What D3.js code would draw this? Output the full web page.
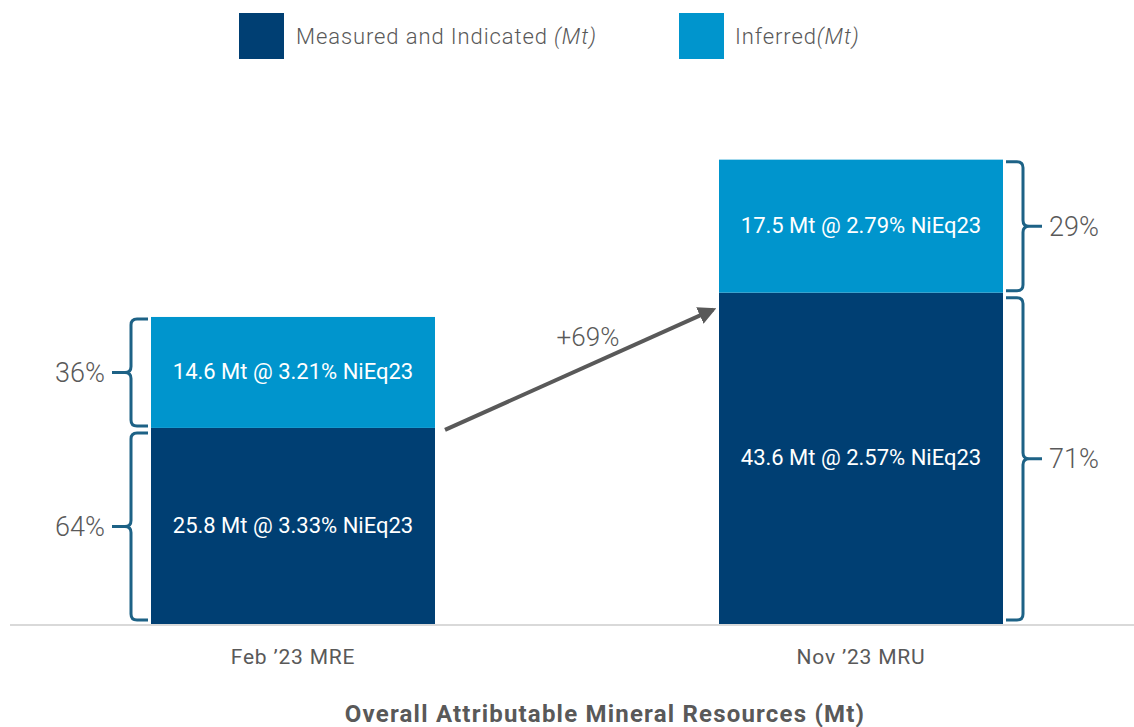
<!DOCTYPE html>
<html lang="en">
<head>
	<meta charset="UTF-8">
	<title>Overall Attributable Mineral Resources</title>
	<style type="text/css">
	body {
		margin: 0;
		background: #fff;
	}
	text {
		font-family: Roboto, "Noto Sans", sans-serif;
	}
	.axis .domain {
		stroke: #d9d9d9;
		stroke-width: 2;
	}
	.axis .tick line {
		stroke: none;
	}
	.axis .tick text {
		fill: #595959;
		font-size: 21px;
		letter-spacing: 0.8px;
	}
	</style>
</head>
<body>
</body>
<script src="https://cdn.jsdelivr.net/npm/d3@7/dist/d3.min.js"></script>
<script>
var categories = ["Feb \u201923 MRE", "Nov \u201923 MRU"]
var measured = [25.8, 43.6]
var inferred = [14.6, 17.5]
var measuredGrade = ["3.33", "2.57"]
var inferredGrade = ["3.21", "2.79"]
var measuredShare = [64, 71]
var inferredShare = [36, 29]
var growth = 69
var seriesNames = ["Measured and Indicated", "Inferred"]

var colors = ["#003f73", "#0095cd"]
var braceColor = "#1d6286"
var textGrey = "#595959"

var width = 1134,
    height = 727,
    baseY = 624;

var x = d3.scaleBand()
    .domain(categories)
    .range([9, 1145])
    .paddingInner(0.5)
    .paddingOuter(0.25)

var y = d3.scaleLinear()
    .domain([0, 70])
    .range([baseY, baseY - 70 * 7.6])

var svg = d3.select("body").append("svg")
    .attr("width", width)
    .attr("height", height)

// legend
var legend = svg.append("g")
var legendX = [239, 679]
seriesNames.forEach(function (name, i) {
	var g = legend.append("g").attr("transform", "translate(" + legendX[i] + ",13)")
	g.append("rect")
	    .attr("width", 45)
	    .attr("height", 46)
	    .attr("fill", colors[i])
	var t = g.append("text")
	    .attr("x", i === 0 ? 57 : 56)
	    .attr("y", 31)
	    .attr("fill", textGrey)
	    .style("font-size", "22px")
	    .style("letter-spacing", "0.9px")
	    .style("font-weight", 300)
	    .text(name + (i === 0 ? " " : ""))
	t.append("tspan")
	    .style("font-style", "italic")
	    .text("(Mt)")
})

// x axis
svg.append("g")
    .attr("class", "axis")
    .attr("transform", "translate(0," + (baseY + 1) + ")")
    .call(d3.axisBottom(x).tickSize(0).tickPadding(24))
    .call(function (g) {
    	g.select(".domain").attr("d", "M10,0H" + width)
    })

// stacked bars
var rows = categories.map(function (c, i) {
	return {
		cat: c,
		segs: [
			{ y0: 0, y1: measured[i], v: measured[i], grade: measuredGrade[i], share: measuredShare[i], k: 0 },
			{ y0: measured[i], y1: measured[i] + inferred[i], v: inferred[i], grade: inferredGrade[i], share: inferredShare[i], k: 1 }
		]
	}
})

var bars = svg.append("g").selectAll(".bar")
    .data(rows)
    .enter()
    .append("g")
    .attr("class", "bar")

bars.each(function (d, i) {
	var g = d3.select(this)
	var bx = x(d.cat), bw = x.bandwidth()
	d.segs.forEach(function (s) {
		g.append("rect")
		    .attr("x", bx)
		    .attr("width", bw)
		    .attr("y", y(s.y1))
		    .attr("height", y(s.y0) - y(s.y1))
		    .attr("fill", colors[s.k])
		g.append("text")
		    .attr("x", bx + bw / 2)
		    .attr("y", (y(s.y0) + y(s.y1)) / 2 - 1)
		    .attr("dy", "0.35em")
		    .attr("text-anchor", "middle")
		    .attr("fill", "#fff")
		    .style("font-size", "22px")
		    .text(s.v.toFixed(1) + " Mt @ " + s.grade + "% NiEq23")

		// brace
		var left = i === 0
		var edge = left ? bx - 3 : bx + bw + 3
		var dir = left ? -1 : 1
		var vx = edge + dir * 17
		var tx = vx + dir * 19
		var y0, y1
		if (s.k === 0) { y0 = y(s.y1) + 5; y1 = y(s.y0) - 4 }
		else { y0 = y(s.y1) + 2; y1 = y(s.y0) - 2 }
		var ym = (y0 + y1) / 2, r = 6
		var p = "M" + edge + "," + y0 +
		    "L" + (vx - dir * r) + "," + y0 +
		    "Q" + vx + "," + y0 + " " + vx + "," + (y0 + r) +
		    "L" + vx + "," + (ym - r) +
		    "Q" + vx + "," + ym + " " + (vx + dir * r) + "," + ym +
		    "L" + tx + "," + ym +
		    "M" + (vx + dir * r) + "," + ym +
		    "Q" + vx + "," + ym + " " + vx + "," + (ym + r) +
		    "L" + vx + "," + (y1 - r) +
		    "Q" + vx + "," + y1 + " " + (vx - dir * r) + "," + y1 +
		    "L" + edge + "," + y1
		g.append("path")
		    .attr("d", p)
		    .attr("fill", "none")
		    .attr("stroke", braceColor)
		    .attr("stroke-width", 3)
		g.append("text")
		    .attr("x", tx + dir * 7)
		    .attr("y", ym)
		    .attr("dy", "0.35em")
		    .attr("text-anchor", left ? "end" : "start")
		    .attr("fill", textGrey)
		    .style("font-size", "27px")
		    .style("font-weight", 300)
		    .text(s.share + "%")
	})
})

// growth arrow
svg.append("defs").append("marker")
    .attr("id", "head")
    .attr("viewBox", "0 0 10 10")
    .attr("refX", 8)
    .attr("refY", 5)
    .attr("markerWidth", 4.5)
    .attr("markerHeight", 4.5)
    .attr("orient", "auto")
  .append("path")
    .attr("d", "M0,0L10,5L0,10Z")
    .attr("fill", textGrey)

var ax0 = x(categories[0]) + x.bandwidth() + 10, ay0 = y(measured[0]) + 2
var ax1 = x(categories[1]) - 6, ay1 = y(measured[1]) + 17
svg.append("line")
    .attr("x1", ax0)
    .attr("y1", ay0)
    .attr("x2", ax1)
    .attr("y2", ay1)
    .attr("stroke", textGrey)
    .attr("stroke-width", 4)
    .attr("marker-end", "url(#head)")

svg.append("text")
    .attr("x", (ax0 + ax1) / 2 + 9)
    .attr("y", (ay0 + ay1) / 2 - 33)
    .attr("dy", "0.35em")
    .attr("text-anchor", "middle")
    .attr("fill", textGrey)
    .style("font-size", "26px")
    .style("font-weight", 300)
    .text("+" + growth + "%")

// title
svg.append("text")
    .attr("x", 605)
    .attr("y", 714)
    .attr("dy", "0.35em")
    .attr("text-anchor", "middle")
    .attr("fill", textGrey)
    .style("font-size", "24px")
    .style("letter-spacing", "1.2px")
    .style("font-weight", 700)
    .text("Overall Attributable Mineral Resources (Mt)")
</script>
</html>
